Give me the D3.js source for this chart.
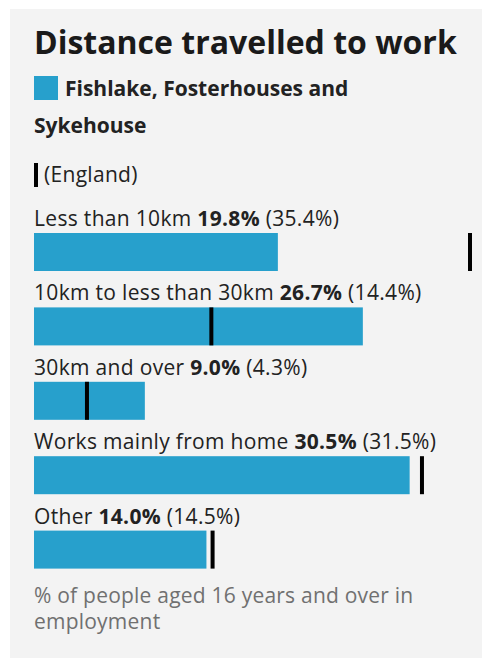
<!DOCTYPE html>
<html>
<head>
<meta charset="UTF-8">
<script src="https://cdnjs.cloudflare.com/ajax/libs/d3/7.8.5/d3.min.js"></script>
<style>
  body { margin: 0; background: #fff; }
  svg text { font-family: "Open Sans", sans-serif; }
</style>
</head>
<body>
<svg id="chart"></svg>
<script>
// DATA
var title = "Distance travelled to work";
var areaName = "Fishlake, Fosterhouses and Sykehouse";
var compareName = "(England)";
var categories = ["Less than 10km", "10km to less than 30km", "30km and over", "Works mainly from home", "Other"];
var areaValues = [19.8, 26.7, 9.0, 30.5, 14.0];
var englandValues = [35.4, 14.4, 4.3, 31.5, 14.5];
var footnote = "% of people aged 16 years and over in employment";

var width = 482,
    height = 658;

var svg = d3.select("#chart")
    .attr("width", width)
    .attr("height", height);

svg.append("rect")
    .attr("x", 10).attr("y", 9)
    .attr("width", width - 10).attr("height", height - 9)
    .attr("fill", "#f3f3f3");

// wrap a string into lines no wider than maxW
function wrap(textSel, str, maxW, lineH) {
    var words = str.split(" "), line = [];
    var ts = textSel.append("tspan").attr("x", textSel.attr("x")).attr("dy", 0);
    words.forEach(function(w) {
        line.push(w);
        ts.text(line.join(" "));
        if (ts.node().getComputedTextLength() > maxW && line.length > 1) {
            line.pop();
            ts.text(line.join(" "));
            line = [w];
            ts = textSel.append("tspan").attr("x", textSel.attr("x")).attr("dy", lineH).text(w);
        }
    });
}

svg.append("text")
    .attr("x", 34).attr("y", 54)
    .attr("font-size", 32).attr("font-weight", 700)
    .attr("fill", "#1a1a1a")
    .text(title);

// legend
svg.append("rect")
    .attr("x", 34).attr("y", 76)
    .attr("width", 24).attr("height", 24)
    .attr("fill", "#27a0cc");

var leg = svg.append("text")
    .attr("x", 65).attr("y", 96)
    .attr("font-size", 21).attr("font-weight", 700)
    .attr("fill", "#222");
wrap(leg, areaName, 300, 37);
leg.selectAll("tspan").filter(function(d, i) { return i > 0; }).attr("x", 34);

svg.append("rect")
    .attr("x", 34).attr("y", 163)
    .attr("width", 4).attr("height", 24)
    .attr("fill", "#000");
svg.append("text")
    .attr("x", 44).attr("y", 182)
    .attr("font-size", 21)
    .attr("letter-spacing", 0.3)
    .attr("fill", "#222")
    .text(compareName);

// bars
var x = d3.scaleLinear()
    .domain([0, d3.max(areaValues.concat(englandValues))])
    .range([34, 470]);

var y = d3.scaleBand()
    .domain(categories)
    .range([233, 605])
    .paddingInner(0);

var barH = 38;

var rows = svg.append("g").selectAll("g")
    .data(categories)
    .enter().append("g");

var labels = rows.append("text")
    .attr("x", 34)
    .attr("y", function(d) { return y(d) - 7; })
    .attr("font-size", 21)
    .attr("letter-spacing", 0.32)
    .attr("fill", "#222");
labels.append("tspan").text(function(d) { return d + " "; });
labels.append("tspan").attr("font-weight", 700)
    .text(function(d, i) { return areaValues[i].toFixed(1) + "%"; });
labels.append("tspan")
    .text(function(d, i) { return " (" + englandValues[i].toFixed(1) + "%)"; });

rows.append("rect")
    .attr("x", x(0))
    .attr("y", function(d) { return y(d); })
    .attr("width", function(d, i) { return x(areaValues[i]) - x(0); })
    .attr("height", barH)
    .attr("fill", "#27a0cc");

rows.append("rect")
    .attr("x", function(d, i) { return x(englandValues[i]) - 2; })
    .attr("y", function(d) { return y(d); })
    .attr("width", 4)
    .attr("height", barH)
    .attr("fill", "#000");

var foot = svg.append("text")
    .attr("x", 34).attr("y", 603)
    .attr("font-size", 21)
    .attr("letter-spacing", 0.22)
    .attr("fill", "#707070");
wrap(foot, footnote, 430, 26);
</script>
</body>
</html>
